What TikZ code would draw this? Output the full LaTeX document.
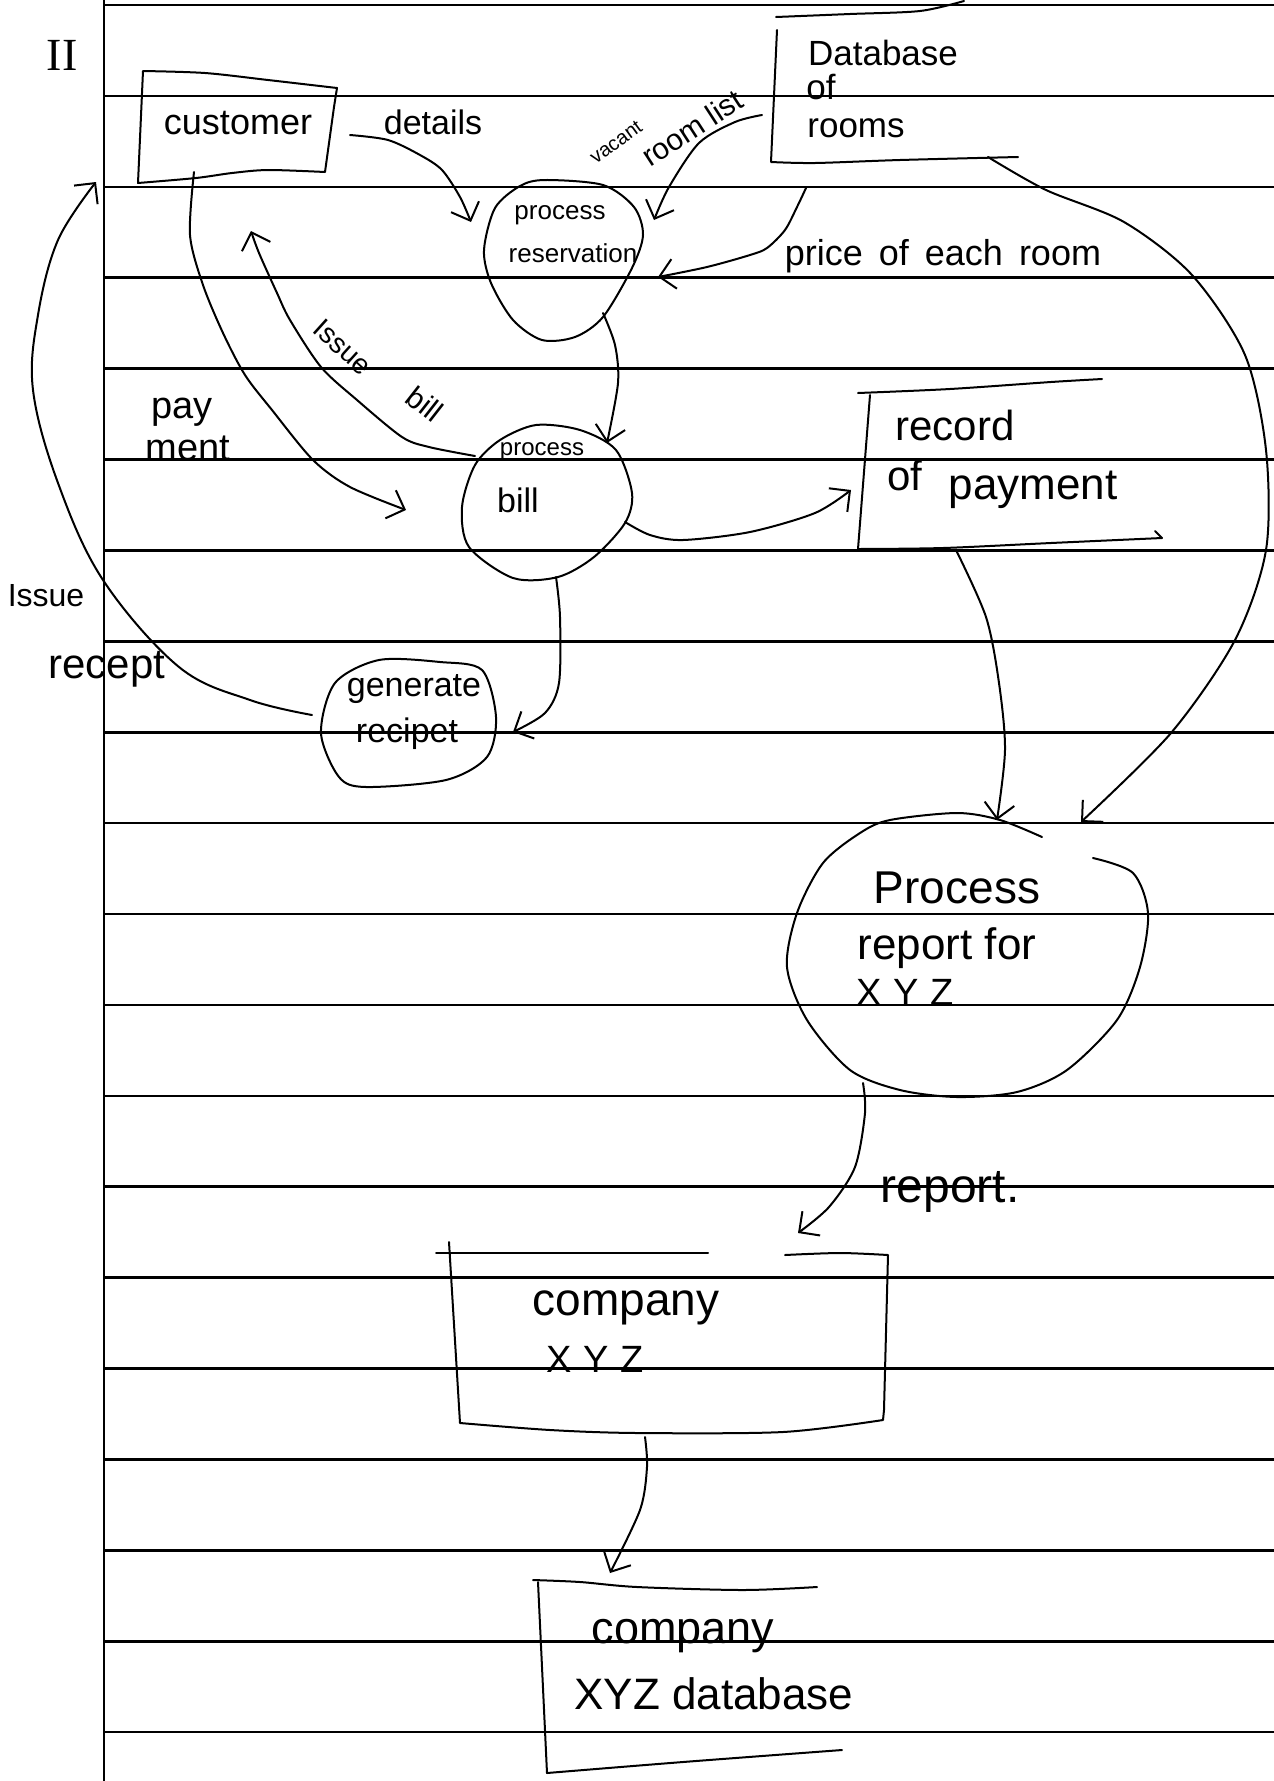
\documentclass[tikz,border=0pt]{standalone}
\usepackage{fontspec}
\setmainfont{Liberation Sans}
\newfontfamily\romanfont{Liberation Serif}
\usetikzlibrary{arrows.meta}
\begin{document}
\begin{tikzpicture}[x=1pt,y=-1pt,
  ink/.style={line width=2pt, line cap=round, line join=round},
  rulebar/.style={line width=2.6pt},
  flow/.style={ink, -{Straight Barb[length=15pt,width=30pt]}},
  txt/.style={inner sep=0pt, font=\fontsize{#1pt}{#1pt}\selectfont}]
\fill[white] (0,0) rectangle (1274,1781);
\useasboundingbox (0,0) rectangle (1274,1781);
% ruled paper
\foreach \k in {0,...,19}{\draw[rulebar] (104,{5+90.9*\k}) -- (1274,{5+90.9*\k});}
\draw[rulebar] (104,0) -- (104,1781);
% roman numeral
\node[inner sep=0pt, font=\romanfont\fontsize{46pt}{46pt}\selectfont] (numII) at (62,55) {II};
% ---------- shapes ----------
% customer
\draw[ink] plot[smooth,tension=0.5] coordinates {(143,71) (205,73) (268,80) (337,88)} -- (334,107) -- (325,172)
  -- plot[smooth,tension=0.5] coordinates {(325,172) (268,170) (232,173) (196,178) (138,183)} -- cycle;
\node[txt=36] (cust) at (238,123) {customer};
% database of rooms
\draw[ink] plot[smooth] coordinates {(776,17) (850,14) (920,11) (964,1)};
\draw[ink] (777,30) -- (771,162) -- plot[smooth] coordinates {(771,162) (815,163) (900,160) (1018,157)};
\node[txt=35] (dbA) at (883,53) {Database};
\node[txt=35] (dbB) at (821,87) {of};
\node[txt=35] (dbC) at (856,128) {rooms};
% process reservation
\draw[ink] plot[smooth cycle] coordinates {(545,180) (603,185) (634,207) (643,235) (632,268) (603,317) (575,337) (542,340) (513,320) (491,283) (484,250) (495,208) (520,186)};
\node[txt=26] (resA) at (560,215) {process};
\node[txt=26] (resB) at (573,253) {reservation};
% process bill
\draw[ink] plot[smooth cycle] coordinates {(536,425) (580,430) (616,450) (632,493) (625,523) (594,557) (558,577) (513,578) (469,547) (462,507) (475,465) (500,440)};
\node[txt=24] (pbA) at (542,452) {process};
\node[txt=34] (pbB) at (518,500) {bill};
% record of payment
\draw[ink] plot[smooth] coordinates {(858,393) (950,389) (1051,382) (1102,379)};
\draw[ink] (870,395) -- (858,549) -- plot[smooth] coordinates {(858,549) (943,548) (1051,543) (1162,538)} -- (1155,531);
\node[txt=42] (recA) at (955,425) {record};
\node[txt=42] (recB) at (905,475) {of};
\node[txt=44] (recC) at (1033,490) {payment};
% generate recipet
\draw[ink] plot[smooth cycle] coordinates {(379,660) (440,662) (482,670) (496,717) (487,757) (446,780) (366,787) (339,777) (321,733) (335,683)};
\node[txt=34] (genA) at (414,689) {generate};
\node[txt=34] (genB) at (407,734) {recipet};
% process report for XYZ
\draw[ink] plot[smooth] coordinates {(1093,858) (1133,873) (1148,913) (1140,967) (1117,1020) (1067,1070) (1017,1092) (957,1097) (900,1090) (850,1070) (807,1020) (787,967) (797,913) (823,863) (860,833) (890,820) (957,813) (1000,820) (1042,837)};
\node[txt=46] (prA) at (957,888) {Process};
\node[txt=44] (prB) at (947,948) {report for};
\node[txt=38] (prC) at (905,992) {X\hspace{12pt}Y\hspace{12pt}Z};
% company XYZ
\draw[ink] (436,1253) -- (708,1253);
\draw[ink] plot[smooth] coordinates {(785,1255) (840,1253) (888,1255)} -- (884,1410) -- (883,1420)
  -- plot[smooth] coordinates {(883,1420) (783,1432) (637,1433) (550,1430) (460,1423)} -- (449,1242);
\node[txt=46] (coA) at (626,1308) {company};
\node[txt=38] (coB) at (595,1359) {X\hspace{12pt}Y\hspace{12pt}Z};
% company XYZ database
\draw[ink] plot[smooth] coordinates {(533,1580) (580,1582) (637,1587) (743,1590) (817,1587)};
\draw[ink] (538,1582) -- (547,1773) -- plot[smooth] coordinates {(547,1773) (683,1762) (842,1750)};
\node[txt=45] (cdA) at (683,1636) {company};
\node[txt=44] (cdB) at (714,1694) {XYZ database};
% ---------- connector end points ----------
\coordinate (detS) at (350,135);  \coordinate (detE) at (471,222);
\coordinate (vacS) at (762,115);  \coordinate (vacE) at (654,220);
\coordinate (priS) at (806,188);  \coordinate (priE) at (658,277);
\coordinate (lngS) at (988,157);  \coordinate (lngE) at (1081,822);
\coordinate (payS) at (194,172);  \coordinate (payE) at (406,510);
\coordinate (ibS)  at (475,456);  \coordinate (ibE)  at (251,231);
\coordinate (rbS)  at (603,313);  \coordinate (rbE)  at (607,443);
\coordinate (brS)  at (625,522);  \coordinate (brE)  at (851,490);
\coordinate (bgS)  at (556,577);  \coordinate (bgE)  at (513,732);
\coordinate (irS)  at (312,715);  \coordinate (irE)  at (96,182);
\coordinate (rpS)  at (956,550);  \coordinate (rpE)  at (997,820);
\coordinate (reS)  at (863,1083); \coordinate (reE)  at (798,1233);
\coordinate (cdS)  at (645,1437); \coordinate (cdE)  at (610,1573);
% ---------- connectors ----------
\draw[flow] plot[smooth] coordinates {(detS) (388,140) (420,155) (442,170) (460,197) (detE)};
\node[txt=34] (detl) at (433,122) {details};
\draw[flow] plot[smooth] coordinates {(vacS) (735,122) (699,143) (669,187) (vacE)};
\node[txt=20, rotate=36] (vac) at (616,142) {vacant};
\node[txt=30, rotate=33] (rlist) at (692,128) {room list};
\draw[flow] plot[smooth] coordinates {(priS) (797,207) (785,230) (767,248) (750,255) (707,267) (priE)};
\node[txt=36] (price) at (943,256) {price\hspace{6pt} of\hspace{6pt} each\hspace{6pt} room};
\draw[flow] plot[smooth] coordinates {(lngS) (1046,190) (1124,222) (1192,275) (1245,355) (1266,450) (1266,550) (1235,640) (1171,733) (lngE)};
\draw[flow] plot[smooth] coordinates {(payS) (190,235) (203,285) (223,333) (245,375) (272,410) (313,460) (350,487) (payE)};
\node[txt=38] (pay1) at (182,412) {pay};
\node[txt=38] (pay2) at (188,448) {ment};
\draw[flow] plot[smooth] coordinates {(ibS) (429,447) (402,437) (357,400) (321,367) (290,320) (277,293) (259,253) (ibE)};
\node[txt=28, rotate=-42] (iss1) at (343,347) {Issue};
\node[txt=30, rotate=-38] (bill1) at (425,404) {bill};
\draw[flow] plot[smooth] coordinates {(rbS) (615,345) (618,383) (rbE)};
\draw[flow] plot[smooth] coordinates {(brS) (650,535) (683,540) (750,532) (815,513) (brE)};
\draw[flow] plot[smooth] coordinates {(bgS) (560,617) (559,683) (545,713) (bgE)};
\draw[flow] plot[smooth, tension=0.6] coordinates {(irS) (250,700) (179,667) (103,580) (58,483) (33,390) (38,315) (58,240) (irE)};
\node[txt=32] (issR1) at (46,596) {Issue};
\node[txt=42] (issR2) at (107,669) {recept};
\draw[flow] plot[smooth] coordinates {(rpS) (986,617) (999,683) (1005,750) (rpE)};
\draw[flow] plot[smooth] coordinates {(reS) (865,1113) (855,1167) (829,1207) (reE)};
\node[txt=48] (rep) at (950,1192) {report.};
\draw[flow] plot[smooth] coordinates {(cdS) (647,1467) (640,1510) (cdE)};
\end{tikzpicture}
\end{document}
